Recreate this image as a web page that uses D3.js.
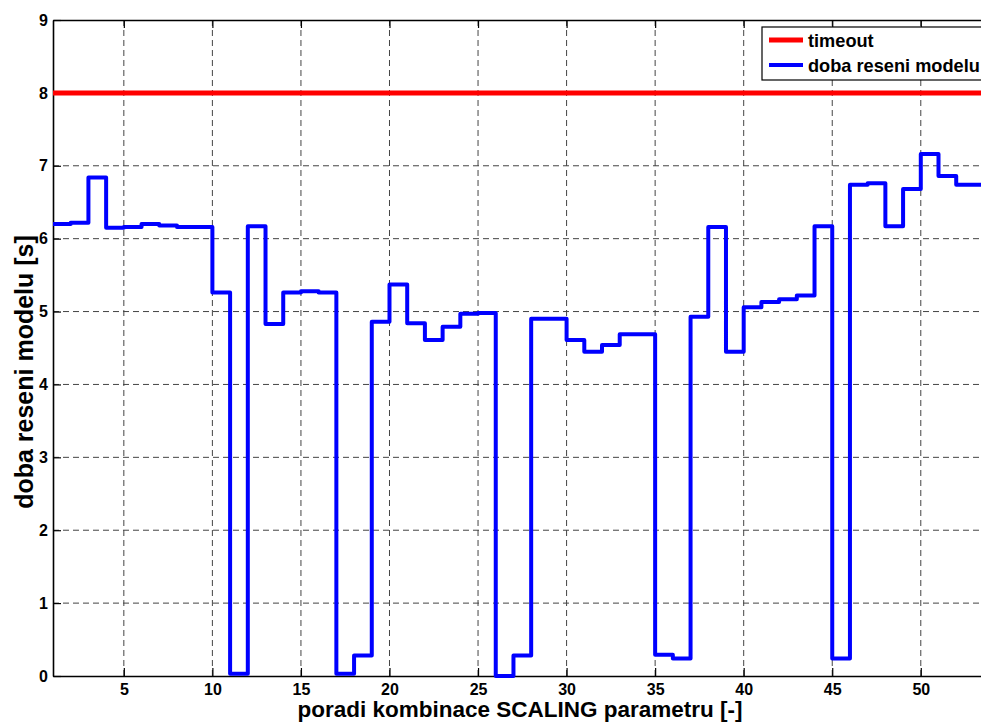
<!DOCTYPE html>
<html>
<head>
<meta charset="utf-8">
<script src="https://cdn.jsdelivr.net/npm/d3@7"></script>
<style>
  html, body { margin: 0; padding: 0; background: #fff; overflow: hidden; }
  svg { display: block; font-family: "Liberation Sans", Arial, Helvetica, sans-serif; font-weight: bold; }
</style>
</head>
<body>
<svg id="chart" width="981" height="723"></svg>
<script>
// ---- data ----
const solveTimes = [
  6.20, 6.22, 6.84, 6.15, 6.16, 6.20, 6.18, 6.16, 6.16, 5.26,
  0.03, 6.17, 4.83, 5.26, 5.28, 5.26, 0.03, 0.28, 4.86, 5.37,
  4.84, 4.61, 4.79, 4.97, 4.98, 0.00, 0.28, 4.90, 4.90, 4.61,
  4.45, 4.54, 4.69, 4.69, 0.29, 0.24, 4.93, 6.16, 4.45, 5.06,
  5.13, 5.17, 5.22, 6.17, 0.24, 6.74, 6.76, 6.17, 6.68, 7.16,
  6.86, 6.74, 6.74, 6.74
];
const timeoutValue = 8;
const xTicks = [5, 10, 15, 20, 25, 30, 35, 40, 45, 50];
const yTicks = [0, 1, 2, 3, 4, 5, 6, 7, 8, 9];
const xDomain = [1, 54];
const yDomain = [0, 9];
const legendLabels = ["timeout", "doba reseni modelu"];
const xLabel = "poradi kombinace SCALING parametru [-]";
const yLabel = "doba reseni modelu [s]";

// ---- layout ----
const L = 53, T = 20, B = 676;
const x = d3.scaleLinear().domain(xDomain).range([L, L + (xDomain[1] - xDomain[0]) * 17.71]);
const y = d3.scaleLinear().domain(yDomain).range([B, T]);
const R = x.range()[1];

const svg = d3.select("#chart");

// grid
const grid = svg.append("g");
grid.selectAll("line.vg").data(xTicks).join("line")
  .attr("x1", d => x(d)).attr("x2", d => x(d))
  .attr("y1", T).attr("y2", B)
  .attr("stroke", "#444").attr("stroke-width", 1).attr("stroke-dasharray", "6,4");
grid.selectAll("line.hg").data(yTicks.filter(d => d > 0 && d < 9)).join("line")
  .attr("x1", L).attr("x2", R)
  .attr("y1", d => y(d)).attr("y2", d => y(d))
  .attr("stroke", "#444").attr("stroke-width", 1).attr("stroke-dasharray", "6,4");

// axes (inward ticks)
const xAxis = svg.append("g").attr("transform", `translate(0,${B})`)
  .call(d3.axisBottom(x).tickValues(xTicks).tickSizeInner(-8).tickSizeOuter(0).tickPadding(8));
const xAxisTop = svg.append("g").attr("transform", `translate(0,${T})`)
  .call(d3.axisTop(x).tickValues(xTicks).tickSizeInner(-8).tickSizeOuter(0).tickFormat(""));
const yAxis = svg.append("g").attr("transform", `translate(${L},0)`)
  .call(d3.axisLeft(y).tickValues(yTicks).tickSizeInner(-8).tickSizeOuter(0).tickPadding(5));
[xAxis, xAxisTop, yAxis].forEach(g => {
  g.select(".domain").attr("stroke", "#000").attr("stroke-width", 1.6);
  g.selectAll(".tick line").attr("stroke", "#000").attr("stroke-width", 1.2);
  g.selectAll(".tick text").attr("fill", "#000").attr("font-size", 16).attr("font-weight", "bold");
});

// timeout line
svg.append("line")
  .attr("x1", x(xDomain[0])).attr("x2", R)
  .attr("y1", y(timeoutValue)).attr("y2", y(timeoutValue))
  .attr("stroke", "#ff0000").attr("stroke-width", 5);

// stairs
const line = d3.line()
  .x((d, i) => x(xDomain[0] + i))
  .y(d => y(d))
  .curve(d3.curveStepAfter);
svg.append("path")
  .datum(solveTimes)
  .attr("d", line)
  .attr("fill", "none")
  .attr("stroke", "#0000ff")
  .attr("stroke-width", 4)
  .attr("stroke-linejoin", "round");

// axis labels
svg.append("text")
  .attr("x", 520).attr("y", 717)
  .attr("text-anchor", "middle").attr("font-size", 22.5).attr("fill", "#000")
  .text(xLabel);
svg.append("text")
  .attr("transform", `translate(33,372) rotate(-90)`)
  .attr("text-anchor", "middle").attr("font-size", 25).attr("fill", "#000")
  .text(yLabel);

// legend
const lg = svg.append("g").attr("transform", "translate(762,27)");
lg.append("rect").attr("x", 0).attr("y", 0).attr("width", 240).attr("height", 53)
  .attr("fill", "#fff").attr("stroke", "#000").attr("stroke-width", 1.2);
const colors = ["#ff0000", "#0000ff"];
const widths = [5, 4];
legendLabels.forEach((lab, i) => {
  const yy = 13 + i * 25;
  lg.append("line").attr("x1", 7).attr("x2", 41).attr("y1", yy).attr("y2", yy)
    .attr("stroke", colors[i]).attr("stroke-width", widths[i]);
  lg.append("text").attr("x", 46).attr("y", yy + 7)
    .attr("font-size", 18.2).attr("fill", "#000").text(lab);
});
</script>
</body>
</html>
